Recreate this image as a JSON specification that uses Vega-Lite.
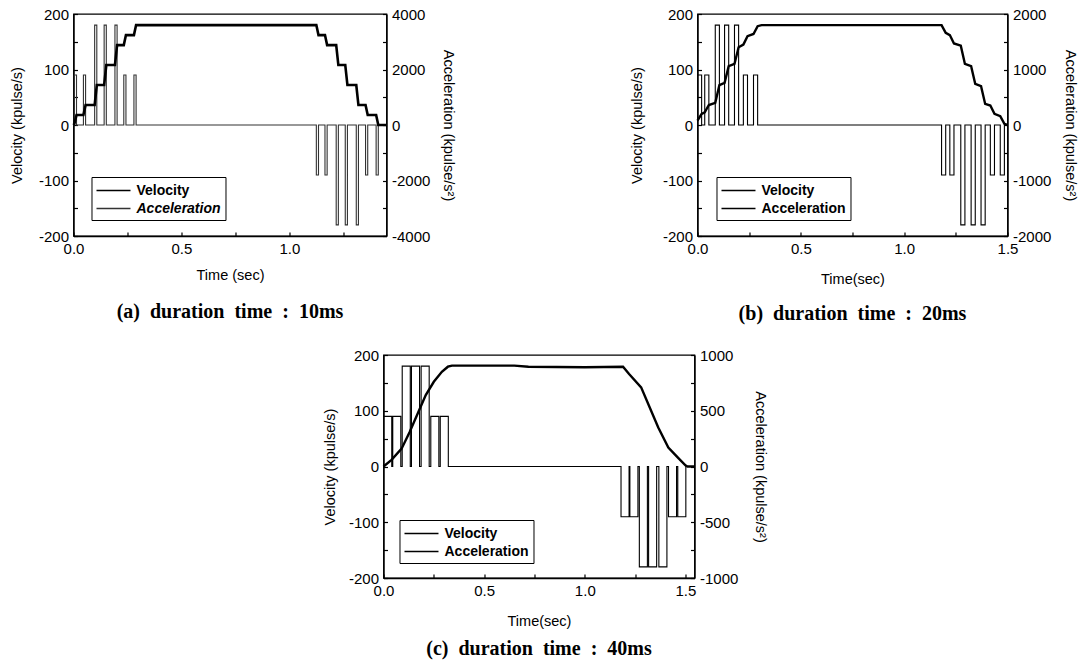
{
  "$schema": "https://vega.github.io/schema/vega-lite/v6.json",
  "background": "white",
  "padding": {"left": 8, "top": 6, "right": 0, "bottom": 0},
  "config": {
    "font": "Liberation Sans",
    "view": {"stroke": "black", "strokeWidth": 1.3},
    "axis": {
      "grid": false,
      "domainColor": "black",
      "domainWidth": 1.3,
      "tickColor": "black",
      "tickWidth": 1.2,
      "tickSize": -4,
      "labelPadding": 9,
      "labelFlush": false,
      "labelColor": "black",
      "labelFont": "Liberation Sans",
      "labelFontSize": 15,
      "titleColor": "black",
      "titleFont": "Liberation Sans",
      "titleFontSize": 14.5,
      "titleFontWeight": "normal"
    },
    "legend": {
      "strokeColor": "black",
      "padding": 4,
      "symbolType": "M-1,0H3",
      "symbolSize": 289,
      "symbolStrokeWidth": 1.3,
      "labelFont": "Liberation Sans",
      "labelFontWeight": "bold",
      "labelFontSize": 14,
      "labelColor": "black",
      "labelOffset": 22,
      "rowPadding": 1,
      "title": null
    },
    "title": {"font": "Liberation Serif", "fontWeight": "bold", "fontSize": 20, "color": "black"}
  },
  "datasets": {
    "velA": [
      {"t": 0, "v": 0}, {"t": 0.004, "v": 2}, {"t": 0.014, "v": 18}, {"t": 0.046, "v": 18}, {"t": 0.056, "v": 36},
      {"t": 0.098, "v": 36}, {"t": 0.108, "v": 72}, {"t": 0.142, "v": 72}, {"t": 0.152, "v": 108},
      {"t": 0.192, "v": 108}, {"t": 0.202, "v": 144}, {"t": 0.233, "v": 144}, {"t": 0.243, "v": 162},
      {"t": 0.28, "v": 162}, {"t": 0.29, "v": 180}, {"t": 0.6, "v": 180}, {"t": 0.9, "v": 180},
      {"t": 1.125, "v": 180}, {"t": 1.135, "v": 162}, {"t": 1.165, "v": 162}, {"t": 1.175, "v": 144},
      {"t": 1.217, "v": 144}, {"t": 1.227, "v": 108}, {"t": 1.259, "v": 108}, {"t": 1.269, "v": 72},
      {"t": 1.31, "v": 72}, {"t": 1.32, "v": 36}, {"t": 1.353, "v": 36}, {"t": 1.363, "v": 18},
      {"t": 1.402, "v": 18}, {"t": 1.412, "v": 0}, {"t": 1.45, "v": 0}
    ],
    "accA": [
      {"t": 0, "a": 0}, {"t": 0.004, "a": 1800}, {"t": 0.014, "a": 0}, {"t": 0.046, "a": 1800}, {"t": 0.056, "a": 0},
      {"t": 0.098, "a": 3600}, {"t": 0.108, "a": 0}, {"t": 0.142, "a": 3600}, {"t": 0.152, "a": 0},
      {"t": 0.192, "a": 3600}, {"t": 0.202, "a": 0}, {"t": 0.233, "a": 1800}, {"t": 0.243, "a": 0},
      {"t": 0.28, "a": 1800}, {"t": 0.29, "a": 0},
      {"t": 1.125, "a": -1800}, {"t": 1.135, "a": 0}, {"t": 1.165, "a": -1800}, {"t": 1.175, "a": 0},
      {"t": 1.217, "a": -3600}, {"t": 1.227, "a": 0}, {"t": 1.259, "a": -3600}, {"t": 1.269, "a": 0},
      {"t": 1.31, "a": -3600}, {"t": 1.32, "a": 0}, {"t": 1.353, "a": -1800}, {"t": 1.363, "a": 0},
      {"t": 1.402, "a": -1800}, {"t": 1.412, "a": 0}, {"t": 1.45, "a": 0}
    ],
    "velB": [
      {"t": 0, "v": 8}, {"t": 0.02, "v": 20}, {"t": 0.035, "v": 23}, {"t": 0.055, "v": 36}, {"t": 0.086, "v": 40},
      {"t": 0.106, "v": 72}, {"t": 0.131, "v": 76}, {"t": 0.151, "v": 106}, {"t": 0.179, "v": 110},
      {"t": 0.199, "v": 140}, {"t": 0.222, "v": 145}, {"t": 0.242, "v": 160}, {"t": 0.271, "v": 164},
      {"t": 0.291, "v": 178}, {"t": 0.31, "v": 180}, {"t": 0.7, "v": 180}, {"t": 1.0, "v": 180},
      {"t": 1.181, "v": 180}, {"t": 1.201, "v": 166}, {"t": 1.221, "v": 162}, {"t": 1.241, "v": 147},
      {"t": 1.274, "v": 143}, {"t": 1.294, "v": 110}, {"t": 1.324, "v": 106}, {"t": 1.344, "v": 74},
      {"t": 1.372, "v": 70}, {"t": 1.392, "v": 38}, {"t": 1.417, "v": 35}, {"t": 1.437, "v": 20},
      {"t": 1.465, "v": 16}, {"t": 1.485, "v": 2}, {"t": 1.5, "v": 0}
    ],
    "accB": [
      {"t": 0, "a": 900}, {"t": 0.02, "a": 0}, {"t": 0.035, "a": 900}, {"t": 0.055, "a": 0},
      {"t": 0.086, "a": 1800}, {"t": 0.106, "a": 0}, {"t": 0.131, "a": 1800}, {"t": 0.151, "a": 0},
      {"t": 0.179, "a": 1800}, {"t": 0.199, "a": 0}, {"t": 0.222, "a": 900}, {"t": 0.242, "a": 0},
      {"t": 0.271, "a": 900}, {"t": 0.291, "a": 0},
      {"t": 1.181, "a": -900}, {"t": 1.201, "a": 0}, {"t": 1.221, "a": -900}, {"t": 1.241, "a": 0},
      {"t": 1.274, "a": -1800}, {"t": 1.294, "a": 0}, {"t": 1.324, "a": -1800}, {"t": 1.344, "a": 0},
      {"t": 1.372, "a": -1800}, {"t": 1.392, "a": 0}, {"t": 1.417, "a": -900}, {"t": 1.437, "a": 0},
      {"t": 1.465, "a": -900}, {"t": 1.485, "a": 0}, {"t": 1.5, "a": 0}
    ],
    "velC": [
      {"t": 0, "v": 0}, {"t": 0.04, "v": 12}, {"t": 0.09, "v": 32}, {"t": 0.13, "v": 62}, {"t": 0.17, "v": 95},
      {"t": 0.21, "v": 128}, {"t": 0.25, "v": 152}, {"t": 0.29, "v": 170}, {"t": 0.32, "v": 179},
      {"t": 0.34, "v": 181}, {"t": 0.5, "v": 181}, {"t": 0.65, "v": 181}, {"t": 0.72, "v": 179},
      {"t": 1.0, "v": 178}, {"t": 1.19, "v": 179}, {"t": 1.22, "v": 166}, {"t": 1.28, "v": 142},
      {"t": 1.32, "v": 108}, {"t": 1.365, "v": 70}, {"t": 1.415, "v": 34}, {"t": 1.465, "v": 15},
      {"t": 1.5, "v": 2}, {"t": 1.51, "v": 0}, {"t": 1.545, "v": 0}
    ],
    "accC": [
      {"t": 0, "a": 450}, {"t": 0.041, "a": 0}, {"t": 0.046, "a": 450}, {"t": 0.086, "a": 0},
      {"t": 0.093, "a": 900}, {"t": 0.133, "a": 0}, {"t": 0.139, "a": 900}, {"t": 0.179, "a": 0},
      {"t": 0.187, "a": 900}, {"t": 0.227, "a": 0}, {"t": 0.235, "a": 450}, {"t": 0.275, "a": 0},
      {"t": 0.282, "a": 450}, {"t": 0.322, "a": 0},
      {"t": 1.18, "a": -450}, {"t": 1.22, "a": 0}, {"t": 1.224, "a": -450}, {"t": 1.264, "a": 0},
      {"t": 1.271, "a": -900}, {"t": 1.311, "a": 0}, {"t": 1.317, "a": -900}, {"t": 1.357, "a": 0},
      {"t": 1.368, "a": -900}, {"t": 1.408, "a": 0}, {"t": 1.416, "a": -450}, {"t": 1.456, "a": 0},
      {"t": 1.462, "a": -450}, {"t": 1.502, "a": 0}, {"t": 1.545, "a": 0}
    ]
  },
  "vconcat": [
    {
      "hconcat": [
        {
          "width": 313, "height": 222,
          "title": {"text": "(a)\u00a0 duration\u00a0 time\u00a0 :\u00a0 10ms", "orient": "bottom", "anchor": "middle", "frame": "group", "offset": 20},
          "layer": [
            {
              "data": {"name": "accA"},
              "mark": {"type": "line", "interpolate": "step-after", "strokeWidth": 1.1},
              "encoding": {
                "x": {"field": "t", "type": "quantitative", "scale": {"domain": [0, 1.45], "nice": false, "zero": false},
                      "axis": {"title": "Time (sec)", "values": [0, 0.25, 0.5, 0.75, 1.0, 1.25], "labelExpr": "(datum.value*4) % 2 == 0 ? format(datum.value, '.1f') : ''", "labelPadding": 9, "titlePadding": 12}},
                "y": {"field": "a", "type": "quantitative", "scale": {"domain": [-4000, 4000], "nice": false},
                      "axis": {"orient": "right", "title": "Acceleration (kpulse/s²)", "values": [-4000, -3000, -2000, -1000, 0, 1000, 2000, 3000, 4000], "labelExpr": "datum.value % 2000 == 0 ? '' + datum.value : ''", "titlePadding": 11}},
                "stroke": {"datum": "Acceleration", "type": "nominal",
                           "scale": {"domain": ["Velocity", "Acceleration"], "range": ["black", "#333333"]},
                           "legend": {"orient": "none", "legendX": 18, "legendY": 163,
                                      "encode": {"labels": {"update": {"fontStyle": {"signal": "datum.label === 'Acceleration' ? 'italic' : 'normal'"}}}}}}
              }
            },
            {
              "data": {"name": "velA"},
              "mark": {"type": "line", "strokeWidth": 2.6},
              "encoding": {
                "x": {"field": "t", "type": "quantitative"},
                "y": {"field": "v", "type": "quantitative", "scale": {"domain": [-200, 200], "nice": false},
                      "axis": {"orient": "left", "title": "Velocity (kpulse/s)", "values": [-200, -150, -100, -50, 0, 50, 100, 150, 200], "labelExpr": "datum.value % 100 == 0 ? '' + datum.value : ''", "titlePadding": 14}},
                "stroke": {"datum": "Velocity", "type": "nominal"}
              }
            }
          ],
          "resolve": {"scale": {"y": "independent"}, "axis": {"y": "independent"}}
        },
        {
          "width": 310, "height": 222,
          "title": {"text": "(b)\u00a0 duration\u00a0 time\u00a0 :\u00a0 20ms", "orient": "bottom", "anchor": "middle", "frame": "group", "offset": 18},
          "layer": [
            {
              "data": {"name": "accB"},
              "mark": {"type": "line", "interpolate": "step-after", "strokeWidth": 1.1},
              "encoding": {
                "x": {"field": "t", "type": "quantitative", "scale": {"domain": [0, 1.5], "nice": false, "zero": false},
                      "axis": {"title": "Time(sec)", "values": [0, 0.25, 0.5, 0.75, 1.0, 1.25, 1.5], "labelExpr": "(datum.value*4) % 2 == 0 ? format(datum.value, '.1f') : ''", "titlePadding": 16}},
                "y": {"field": "a", "type": "quantitative", "scale": {"domain": [-2000, 2000], "nice": false},
                      "axis": {"orient": "right", "title": "Acceleration (kpulse/s²)", "values": [-2000, -1500, -1000, -500, 0, 500, 1000, 1500, 2000], "labelExpr": "datum.value % 1000 == 0 ? '' + datum.value : ''", "titlePadding": 12}},
                "stroke": {"datum": "Acceleration", "type": "nominal",
                           "scale": {"domain": ["Velocity", "Acceleration"], "range": ["black", "black"]},
                           "legend": {"orient": "none", "legendX": 19, "legendY": 163}}
              }
            },
            {
              "data": {"name": "velB"},
              "mark": {"type": "line", "strokeWidth": 2.4},
              "encoding": {
                "x": {"field": "t", "type": "quantitative"},
                "y": {"field": "v", "type": "quantitative", "scale": {"domain": [-200, 200], "nice": false},
                      "axis": {"orient": "left", "title": "Velocity (kpulse/s)", "values": [-200, -150, -100, -50, 0, 50, 100, 150, 200], "labelExpr": "datum.value % 100 == 0 ? '' + datum.value : ''", "titlePadding": 18}},
                "stroke": {"datum": "Velocity", "type": "nominal"}
              }
            }
          ],
          "resolve": {"scale": {"y": "independent"}, "axis": {"y": "independent"}}
        }
      ],
      "spacing": 171,
      "resolve": {"scale": {"x": "independent", "y": "independent", "stroke": "independent"}, "legend": {"stroke": "independent"}}
    },
    {
      "width": 311, "height": 223,
      "title": {"text": "(c)\u00a0 duration\u00a0 time\u00a0 :\u00a0 40ms", "orient": "bottom", "anchor": "middle", "frame": "group", "offset": 11},
      "layer": [
        {
          "data": {"name": "accC"},
          "mark": {"type": "line", "interpolate": "step-after", "strokeWidth": 1.1},
          "encoding": {
            "x": {"field": "t", "type": "quantitative", "scale": {"domain": [0, 1.545], "nice": false, "zero": false},
                  "axis": {"title": "Time(sec)", "values": [0, 0.25, 0.5, 0.75, 1.0, 1.25, 1.5], "labelExpr": "(datum.value*4) % 2 == 0 ? format(datum.value, '.1f') : ''", "titlePadding": 16}},
            "y": {"field": "a", "type": "quantitative", "scale": {"domain": [-1000, 1000], "nice": false},
                  "axis": {"orient": "right", "title": "Acceleration (kpulse/s²)", "values": [-1000, -750, -500, -250, 0, 250, 500, 750, 1000], "labelExpr": "datum.value % 500 == 0 ? '' + datum.value : ''", "titlePadding": 15}},
            "stroke": {"datum": "Acceleration", "type": "nominal",
                       "scale": {"domain": ["Velocity", "Acceleration"], "range": ["black", "black"]},
                       "legend": {"orient": "none", "legendX": 16, "legendY": 165}}
          }
        },
        {
          "data": {"name": "velC"},
          "mark": {"type": "line", "strokeWidth": 2.4},
          "encoding": {
            "x": {"field": "t", "type": "quantitative"},
            "y": {"field": "v", "type": "quantitative", "scale": {"domain": [-200, 200], "nice": false},
                  "axis": {"orient": "left", "title": "Velocity (kpulse/s)", "values": [-200, -150, -100, -50, 0, 50, 100, 150, 200], "labelExpr": "datum.value % 100 == 0 ? '' + datum.value : ''", "titlePadding": 11}},
            "stroke": {"datum": "Velocity", "type": "nominal"}
          }
        }
      ],
      "resolve": {"scale": {"y": "independent"}, "axis": {"y": "independent"}}
    }
  ],
  "spacing": 22,
  "center": true,
  "resolve": {"scale": {"x": "independent", "y": "independent", "stroke": "independent"}, "legend": {"stroke": "independent"}}
}
